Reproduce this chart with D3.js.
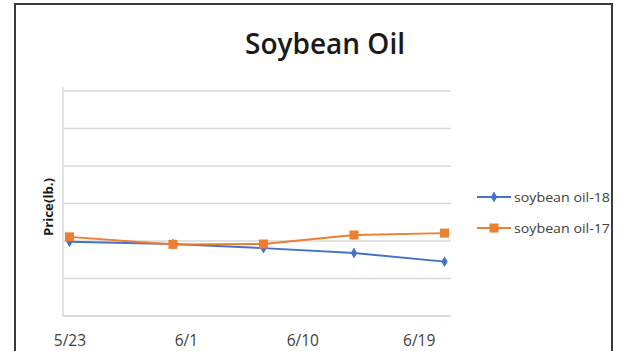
<!DOCTYPE html>
<html>
<head>
<meta charset="utf-8">
<script src="https://cdn.jsdelivr.net/npm/d3@7"></script>
<style>
  html, body { margin: 0; padding: 0; background: #fff; }
  svg { display: block; }
</style>
</head>
<body>
<svg id="chart" width="621" height="351"></svg>
<script>
// Weekly price observations (cents per lb.)
const dates = ["2018-05-23", "2018-05-31", "2018-06-07", "2018-06-14", "2018-06-21"];
const oil18 = [19.8, 19.2, 18.1, 16.8, 14.5];
const oil17 = [21.1, 19.1, 19.2, 21.6, 22.1];
const seriesNames = ["soybean oil-18", "soybean oil-17"];
const tickDates = ["2018-05-23", "2018-06-01", "2018-06-10", "2018-06-19"];
const yTicks = [0, 10, 20, 30, 40, 50, 60];

const parse = d3.utcParse("%Y-%m-%d");
const fmt = d3.utcFormat("%-m/%-d");
const DAY = 864e5;

const svg = d3.select("#chart");
const plot = { left: 63, right: 451, top: 91, bottom: 316 };
const FONT = "'Open Sans', sans-serif";

// Chart frame
svg.append("rect")
  .attr("x", 15).attr("y", 4)
  .attr("width", 597).attr("height", 360)
  .attr("fill", "#fff")
  .attr("stroke", "#3a3a3a").attr("stroke-width", 2);

// Date axis: each day occupies a slot, points sit in the middle of their day
const first = parse(dates[0]), last = parse(dates[dates.length - 1]);
const x = d3.scaleUtc()
  .domain([new Date(+first - DAY / 2), new Date(+last + DAY / 2)])
  .range([plot.left, plot.right]);
const y = d3.scaleLinear().domain([0, 60]).range([plot.bottom, plot.top]);

// Horizontal gridlines
svg.append("g")
  .selectAll("line")
  .data(yTicks)
  .join("line")
  .attr("x1", plot.left).attr("x2", plot.right)
  .attr("y1", d => y(d)).attr("y2", d => y(d))
  .attr("stroke", d => d === 0 ? "#cfcfcf" : "#d9d9d9")
  .attr("stroke-width", 1.5);

// Vertical axis line
svg.append("line")
  .attr("x1", plot.left).attr("x2", plot.left)
  .attr("y1", y(60) - 4).attr("y2", plot.bottom)
  .attr("stroke", "#d9d9d9").attr("stroke-width", 1.5);

// X axis labels
const xAxis = d3.axisBottom(x)
  .tickValues(tickDates.map(parse))
  .tickFormat(fmt)
  .tickSize(0)
  .tickPadding(0);
const gx = svg.append("g")
  .attr("transform", `translate(0,${plot.bottom})`)
  .call(xAxis);
gx.select(".domain").remove();
gx.selectAll("text")
  .attr("dy", "0")
  .attr("y", 30)
  .attr("fill", "#404040")
  .style("font-family", FONT)
  .style("font-size", "15.5px");

// Title
svg.append("text")
  .attr("x", 325).attr("y", 54)
  .attr("text-anchor", "middle")
  .attr("fill", "#1a1a1a")
  .style("font-family", FONT)
  .style("font-weight", "600")
  .style("font-size", "28px")
  .text("Soybean Oil");

// Y axis title
svg.append("text")
  .attr("transform", `translate(53,207) rotate(-90)`)
  .attr("text-anchor", "middle")
  .attr("fill", "#1a1a1a")
  .attr("textLength", 58)
  .attr("lengthAdjust", "spacingAndGlyphs")
  .style("font-family", FONT)
  .style("font-weight", "700")
  .style("font-size", "12px")
  .text("Price(lb.)");

const colors = ["#4472C4", "#ED7D31"];
const series = [oil18, oil17].map((vals, i) => ({
  name: seriesNames[i],
  color: colors[i],
  marker: i === 0 ? "diamond" : "square",
  points: vals.map((v, j) => ({ date: parse(dates[j]), value: v }))
}));

const line = d3.line().x(d => x(d.date)).y(d => y(d.value));

function drawMarker(g, type, color) {
  if (type === "diamond") {
    g.append("path")
      .attr("d", d3.symbol(d3.symbolDiamond, 34)())
      .attr("fill", color);
  } else {
    g.append("rect")
      .attr("x", -4.5).attr("y", -4.5).attr("width", 9).attr("height", 9)
      .attr("fill", color);
  }
}

series.forEach(s => {
  svg.append("path")
    .datum(s.points)
    .attr("d", line)
    .attr("fill", "none")
    .attr("stroke", s.color)
    .attr("stroke-width", 2);
  s.points.forEach(p => {
    const g = svg.append("g").attr("transform", `translate(${x(p.date)},${y(p.value)})`);
    drawMarker(g, s.marker, s.color);
  });
});

// Legend
const legendRows = [197, 228];
series.forEach((s, i) => {
  const g = svg.append("g").attr("transform", `translate(477,${legendRows[i]})`);
  g.append("line")
    .attr("x1", 0).attr("x2", 34)
    .attr("stroke", s.color).attr("stroke-width", 2);
  const m = g.append("g").attr("transform", "translate(17,0)");
  drawMarker(m, s.marker, s.color);
  g.append("text")
    .attr("x", 37).attr("y", 4.5)
    .attr("fill", "#404040")
    .attr("textLength", 96)
    .attr("lengthAdjust", "spacingAndGlyphs")
    .style("font-family", FONT)
    .style("font-size", "13px")
    .text(s.name);
});
</script>
</body>
</html>
